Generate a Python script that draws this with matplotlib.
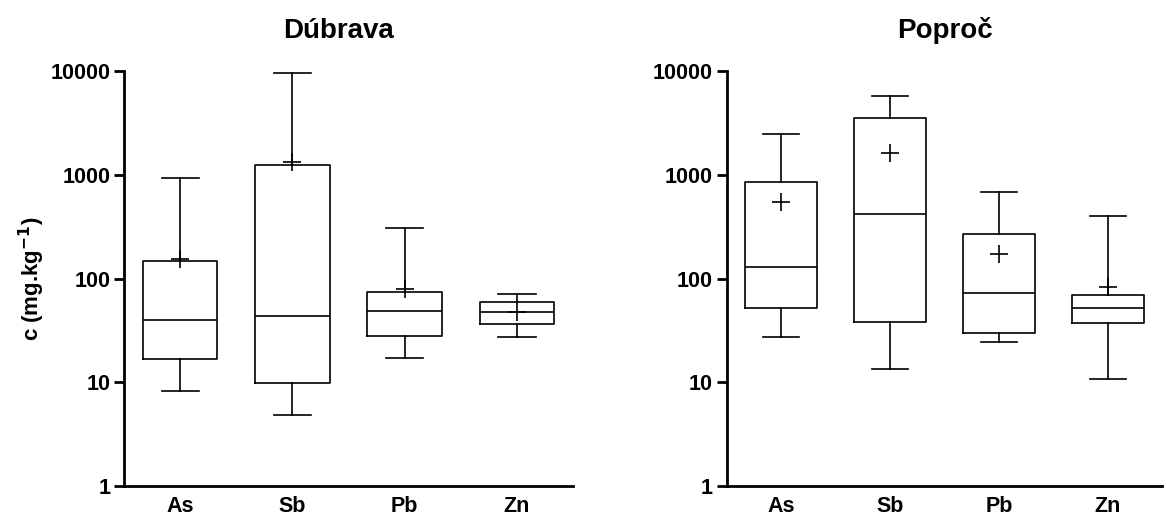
import matplotlib.pyplot as plt

plt.rcParams['font.family'] = ['Liberation Sans', 'DejaVu Sans']
plt.rcParams['font.weight'] = 'bold'

elements = ["As", "Sb", "Pb", "Zn"]

# Dúbrava: whisker low, Q1, median, Q3, whisker high, mean
dub_lo = [8.2, 4.8, 17.3, 27.5]
dub_q1 = [16.6, 9.8, 28.1, 36.2]
dub_med = [39.5, 44, 48.6, 47.9]
dub_q3 = [147, 1240, 73.6, 59.7]
dub_hi = [925, 9500, 309, 71]
dub_mean = [155, 1335, 79, 48]

# Poproč
pop_lo = [27.5, 13.4, 24.6, 10.8]
pop_q1 = [51.7, 38.1, 29.6, 37.6]
pop_med = [129, 423, 71.8, 52]
pop_q3 = [844, 3540, 271, 69]
pop_hi = [2460, 5700, 681, 404]
pop_mean = [548, 1610, 171, 83]


def make_stats(lo, q1, med, q3, hi, mean):
    stats = []
    for i in range(len(elements)):
        stats.append({"label": elements[i], "whislo": lo[i], "q1": q1[i],
                      "med": med[i], "q3": q3[i], "whishi": hi[i],
                      "mean": mean[i], "fliers": []})
    return stats


fig = plt.figure(figsize=(11.67, 5.18), dpi=100)
ax1 = fig.add_axes([0.1063, 0.0618, 0.3847, 0.801])
ax2 = fig.add_axes([0.6227, 0.0618, 0.3734, 0.801])

lw = 1.2
props = dict(color="black", linewidth=lw)
panels = [(ax1, "Dúbrava", make_stats(dub_lo, dub_q1, dub_med, dub_q3, dub_hi, dub_mean), 0.477),
          (ax2, "Poproč", make_stats(pop_lo, pop_q1, pop_med, pop_q3, pop_hi, pop_mean), 0.5)]

for ax, title, stats, tx in panels:
    ax.bxp(stats, widths=0.665, showmeans=True, showfliers=False,
           boxprops=props, whiskerprops=props, capprops=props,
           medianprops=props,
           meanprops=dict(marker="+", markeredgecolor="black",
                          markersize=13, markeredgewidth=1.2))
    ax.set_yscale("log")
    ax.set_ylim(1, 10000)
    ax.set_xlim(0.5, 4.5)
    ax.set_yticks([1, 10, 100, 1000, 10000])
    ax.set_yticklabels(["1", "10", "100", "1000", "10000"])
    ax.minorticks_off()
    ax.spines["top"].set_visible(False)
    ax.spines["right"].set_visible(False)
    ax.spines["left"].set_linewidth(2)
    ax.spines["bottom"].set_linewidth(2)
    ax.tick_params(axis="y", length=7, width=2, pad=3, labelsize=15.5)
    ax.tick_params(axis="x", length=0, pad=7, labelsize=15.5)
    for lab in ax.get_xticklabels() + ax.get_yticklabels():
        lab.set_fontweight("bold")
    ax.set_title(title, fontsize=20, fontweight="bold", pad=24, x=tx)

ax1.set_ylabel("c (mg.kg$^{\\mathbf{-1}}$)", fontsize=16, fontweight="bold")
ax1.yaxis.set_label_coords(-0.172, 0.5)

plt.savefig("out.png", dpi=100)
